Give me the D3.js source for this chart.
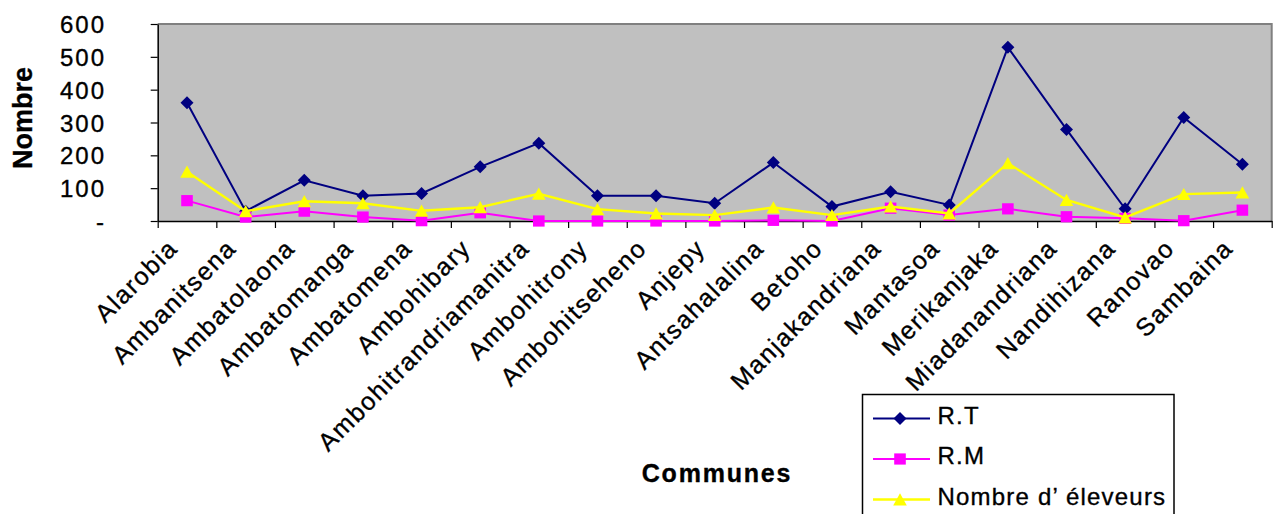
<!DOCTYPE html>
<html>
<head>
<meta charset="utf-8">
<script src="https://cdn.jsdelivr.net/npm/d3@7"></script>
<style>
  html, body { margin: 0; padding: 0; background: #ffffff; }
  svg { display: block; }
  text { font-family: "Liberation Sans", Arial, sans-serif; fill: #000; stroke: #000; stroke-width: 0.35px; }
</style>
</head>
<body>
<svg id="chart" width="1276" height="514"></svg>
<script>
// Communes (x categories)
const communes = [
  "Alarobia", "Ambanitsena", "Ambatolaona", "Ambatomanga", "Ambatomena",
  "Ambohibary", "Ambohitrandriamanitra", "Ambohitrony", "Ambohitseheno", "Anjepy",
  "Antsahalalina", "Betoho", "Manjakandriana", "Mantasoa", "Merikanjaka",
  "Miadanandriana", "Nandihizana", "Ranovao", "Sambaina"
];

// Series values per commune
const rt = [360, 30, 124, 77, 84, 165, 237, 77, 77, 54, 178, 44, 89, 49, 529, 279, 37, 315, 173];
const rm = [62, 12, 30, 12, 1, 25, 0, 0, 0, 0, 2, 0, 39, 18, 37, 13, 8, 1, 33];
const eleveurs = [150, 30, 60, 54, 31, 42, 83, 36, 23, 18, 41, 18, 44, 23, 176, 64, 11, 82, 87];

// Y axis ticks and their labels (zero shown as a dash)
const yTickValues = [0, 100, 200, 300, 400, 500, 600];
const yTickLabels = ["-", "100", "200", "300", "400", "500", "600"];

const seriesNames = ["R.T", "R.M", "Nombre d\u2019 \u00e9leveurs"];

const svg = d3.select("#chart");

const plot = { left: 157.7, right: 1271.7, top: 24, bottom: 221 };

const x = d3.scaleBand().domain(communes).range([plot.left, plot.right]).padding(0);
const cx = c => x(c) + x.bandwidth() / 2;
const xEdges = d3.scaleLinear().domain([0, communes.length]).range([plot.left, plot.right]);
const y = d3.scaleLinear().domain([0, 600]).range([plot.bottom, plot.top]);

// Plot area background
svg.append("rect")
  .attr("x", plot.left).attr("y", plot.top)
  .attr("width", plot.right - plot.left).attr("height", plot.bottom - plot.top)
  .attr("fill", "#c0c0c0");

// Grey frame on top and right
svg.append("path")
  .attr("d", `M${plot.left},${plot.top}H${plot.right}V${plot.bottom}`)
  .attr("fill", "none").attr("stroke", "#808080").attr("stroke-width", 2);

// Y axis
const yAxis = svg.append("g")
  .attr("transform", `translate(${plot.left},0)`)
  .call(d3.axisLeft(y).tickValues(yTickValues)
    .tickFormat((d, i) => yTickLabels[i]).tickSize(7).tickSizeOuter(0).tickPadding(0));
yAxis.select(".domain").attr("stroke", "#000").attr("stroke-width", 1.5);
yAxis.selectAll(".tick line").attr("stroke", "#000").attr("stroke-width", 1.2);
yAxis.selectAll(".tick text")
  .attr("x", 104 - plot.left + 2)
  .attr("dy", "0.36em")
  .attr("text-anchor", "end")
  .attr("fill", "#000")
  .style("font-size", "24px")
  .style("letter-spacing", "2px");

// X axis (ticks on category boundaries)
const xAxis = svg.append("g")
  .attr("transform", `translate(0,${plot.bottom})`)
  .call(d3.axisBottom(xEdges).tickValues(d3.range(communes.length + 1))
    .tickFormat("").tickSize(7).tickSizeOuter(0));
xAxis.select(".domain").attr("stroke", "#000").attr("stroke-width", 1.5);
xAxis.selectAll(".tick line").attr("stroke", "#000").attr("stroke-width", 1.2);

// Category labels, rotated
svg.append("g").selectAll("text")
  .data(communes)
  .join("text")
  .attr("transform", d => `translate(${cx(d) - 9},251) rotate(-45)`)
  .attr("text-anchor", "end")
  .attr("dx", "1.6px")
  .style("font-size", "25px")
  .style("letter-spacing", "1.6px")
  .text(d => d);

// Axis titles
svg.append("text")
  .attr("transform", "translate(32,118) rotate(-90)")
  .attr("text-anchor", "middle")
  .style("font-size", "27px").style("font-weight", "bold")
  .text("Nombre");

svg.append("text")
  .attr("x", 717).attr("y", 481.5)
  .attr("text-anchor", "middle")
  .style("font-size", "25px").style("font-weight", "bold")
  .style("letter-spacing", "1.8px")
  .text("Communes");

// Marker shapes
const markerPath = {
  diamond: "M0,-6.5L6.5,0L0,6.5L-6.5,0Z",
  square: "M-5.8,-5.6H5.8V5.6H-5.8Z",
  triangle: "M0,-6.2L6.8,6L-6.8,6Z"
};

const series = [
  { name: seriesNames[0], values: rt, color: "#000080", marker: "diamond", width: 2 },
  { name: seriesNames[1], values: rm, color: "#ff00ff", marker: "square", width: 2 },
  { name: seriesNames[2], values: eleveurs, color: "#ffff00", marker: "triangle", width: 2.4 }
];

const line = d3.line().x((d, i) => cx(communes[i])).y(d => y(d));

series.forEach(s => {
  const g = svg.append("g");
  g.append("path")
    .attr("d", line(s.values))
    .attr("fill", "none")
    .attr("stroke", s.color)
    .attr("stroke-width", s.width)
    .attr("stroke-linejoin", "miter");
  g.selectAll("path.mk")
    .data(s.values)
    .join("path")
    .attr("class", "mk")
    .attr("transform", (d, i) => `translate(${cx(communes[i])},${y(d)})`)
    .attr("d", markerPath[s.marker])
    .attr("fill", s.color);
});

// Legend
const legend = svg.append("g");
legend.append("rect")
  .attr("x", 862.5).attr("y", 394.5)
  .attr("width", 311.5).attr("height", 140)
  .attr("fill", "#fff").attr("stroke", "#000").attr("stroke-width", 1.5);

const legendY = [418.5, 459, 499.5];
const legendBaseline = [423.5, 464, 505];
series.forEach((s, i) => {
  const ly = legendY[i];
  legend.append("line")
    .attr("x1", 873).attr("x2", 930).attr("y1", ly).attr("y2", ly)
    .attr("stroke", s.color).attr("stroke-width", s.width);
  legend.append("path")
    .attr("transform", `translate(900,${ly})`)
    .attr("d", markerPath[s.marker])
    .attr("fill", s.color);
  legend.append("text")
    .attr("x", 937.5).attr("y", legendBaseline[i])
    .style("font-size", "24px")
    .style("letter-spacing", "1.2px")
    .text(s.name);
});
</script>
</body>
</html>
